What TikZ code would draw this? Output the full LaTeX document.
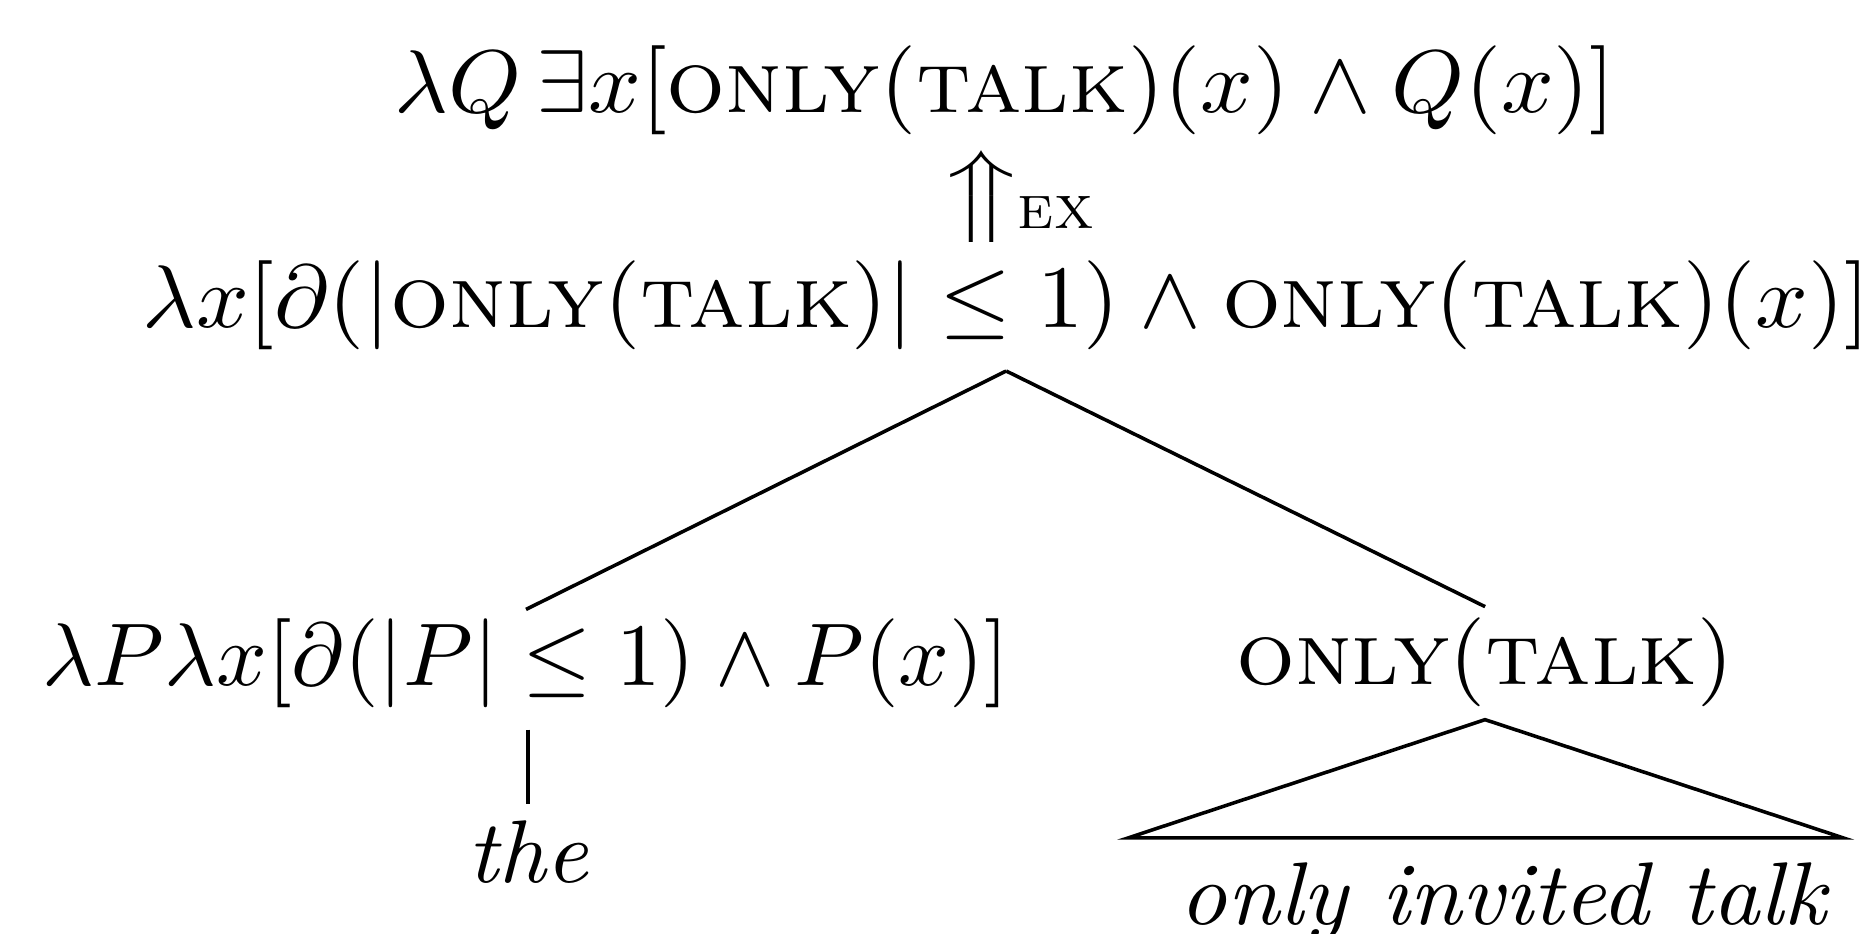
\documentclass[tikz,border=0pt]{standalone}
\usepackage{amsmath}

\begin{document}
\begin{tikzpicture}[xscale=1.04, every node/.style={inner sep=0pt, anchor=base, transform shape}]
\useasboundingbox (0,0) rectangle (7.097,-3.688);
% Meanings
\node (top) at (3.816,-0.446) {$\lambda Q\,\exists x[\textsc{only}(\textsc{talk})(x)\wedge Q(x)]$};
\node[anchor=base west] (ex) at (3.585,-0.851) {$\smash[b]{\scalebox{1}[0.86]{$\big\Uparrow$}}_{\textsc{ex}}$};
\node (root) at (3.820,-1.293) {$\lambda x[\partial(|\textsc{only}(\textsc{talk})|\leq 1)\wedge\textsc{only}(\textsc{talk})(x)]$};
\node (det) at (1.997,-2.709) {\scalebox{0.962}[1]{$\lambda P\lambda x[\partial(|P|\leq 1)\wedge P(x)]$}};
\node (np) at (5.638,-2.705) {$\textsc{only}(\textsc{talk})$};
% Words
\node (the) at (2.005,-3.487) {\textit{the}};
\node (phrase) at (5.714,-3.649) {\textit{only invited talk}};
% Branches
\draw ([yshift=-2.2pt]root.south) -- ([yshift=0.9pt]det.north);
\draw ([yshift=-2.2pt]root.south) -- ([yshift=1.1pt]np.north);
\draw ([yshift=-2.2pt]the.north |- det.south) -- ([yshift=1.7pt]the.north);
% Roof
\coordinate (roofl) at (4.283,-3.309);
\coordinate (roofr) at (6.998,-3.309);
\draw ([yshift=-1.2pt]np.south) -- (roofl) -- (roofr) -- cycle;
\end{tikzpicture}
\end{document}
